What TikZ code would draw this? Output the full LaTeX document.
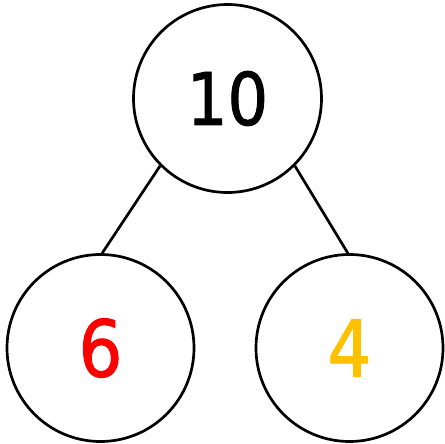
\documentclass[tikz,border=0pt]{standalone}
\usepackage{fontspec}
\setmainfont{DejaVu Sans}[FakeStretch=0.88,FakeBold=1.2]
\definecolor{numred}{RGB}{255,0,0}
\definecolor{numgold}{RGB}{255,192,0}
\begin{document}
\begin{tikzpicture}[x=0.03cm,y=-0.03cm,
  bubble/.style={circle,draw=black,line width=2.7*0.03cm,minimum size=187*0.03cm,inner sep=0pt,fill=white},
  link/.style={draw=black,line width=2.7*0.03cm}]
\useasboundingbox (0,0) rectangle (444,444);
\node[bubble,minimum size=188*0.03cm,font=\fontsize{62}{62}\selectfont] (top) at (227.5,98.5) {10};
\node[bubble,font=\fontsize{67}{67}\selectfont,text=numred] (left) at (100.5,348) {6};
\node[bubble,font=\fontsize{67}{67}\selectfont,text=numgold] (right) at (349.5,348) {4};
\draw[link] (top.225) -- (left.89);
\draw[link] (top.-45) -- (right.91);
\end{tikzpicture}
\end{document}
